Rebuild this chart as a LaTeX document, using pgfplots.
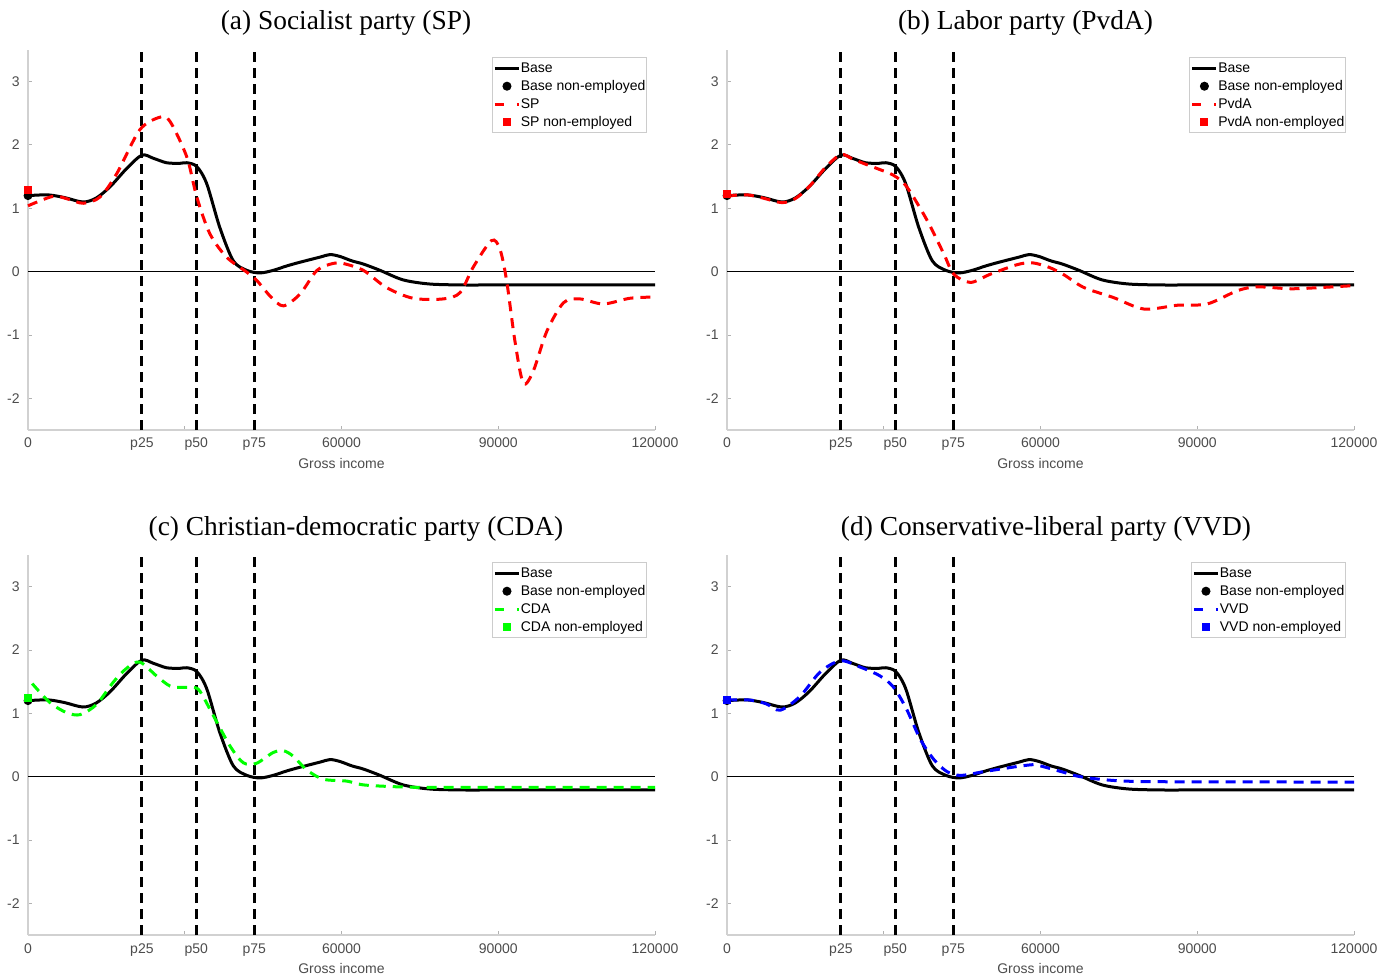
\documentclass[border=0pt]{standalone}
\usepackage{pgfplots}
\usepackage{pgfplotstable}
\pgfplotsset{compat=1.18}
\usepackage{fontspec}
\setmainfont{Liberation Sans}
\newfontfamily\titlefont{Liberation Serif}

\pgfplotstableread{
x y
0 1.20
2000 1.21
4200 1.21
7000 1.17
10500 1.10
13000 1.16
15700 1.34
18900 1.63
21800 1.84
24000 1.79
26500 1.72
29000 1.71
30400 1.72
32300 1.66
34200 1.39
36700 0.70
39300 0.17
41900 0.02
44400 -0.02
46900 0.02
49500 0.09
52100 0.15
55900 0.23
57800 0.27
59700 0.24
62000 0.17
64200 0.12
67400 0.02
71800 -0.13
76900 -0.195
83300 -0.21
90000 -0.21
120000 -0.21
}\base

\pgfplotstableread{
x y
0 1.04
4800 1.19
7500 1.15
10600 1.08
13800 1.18
17000 1.55
21400 2.24
25300 2.44
27200 2.37
30400 1.81
32300 1.18
34800 0.60
38000 0.23
41900 -0.01
43800 -0.14
46500 -0.40
48900 -0.54
52100 -0.35
55300 0.02
58400 0.13
60300 0.13
64200 0.02
68600 -0.25
73700 -0.42
79500 -0.43
82700 -0.33
85200 0.07
88700 0.49
90300 0.36
91600 -0.14
93200 -1.10
94800 -1.76
96700 -1.57
99300 -0.94
102500 -0.49
105600 -0.43
110100 -0.51
115200 -0.42
120000 -0.40
}\sp

\pgfplotstableread{
x y
0 1.19
2000 1.21
4200 1.21
7000 1.16
10500 1.09
13000 1.15
15700 1.34
18900 1.65
21800 1.85
24000 1.78
26100 1.71
29000 1.62
31900 1.52
34400 1.34
38300 0.81
41500 0.28
43400 -0.04
46600 -0.17
50400 -0.04
55500 0.11
58400 0.14
61600 0.07
64500 -0.05
68300 -0.25
74000 -0.41
79800 -0.59
86200 -0.53
91900 -0.51
97700 -0.30
101500 -0.24
107900 -0.27
113700 -0.25
120000 -0.22
}\pvda

\pgfplotstableread{
x y
800 1.47
4200 1.17
7400 1.01
10000 0.98
13100 1.14
16300 1.49
19000 1.72
21400 1.81
24600 1.59
27200 1.43
29500 1.41
31600 1.41
32900 1.35
35500 0.96
38700 0.48
41200 0.22
43700 0.21
46900 0.38
48900 0.41
50800 0.32
53300 0.11
56500 -0.04
61000 -0.07
64200 -0.13
70600 -0.16
76900 -0.17
90000 -0.17
120000 -0.17
}\cda

\pgfplotstableread{
x y
0 1.21
4400 1.21
7500 1.15
10200 1.05
14000 1.27
17800 1.65
21700 1.83
25500 1.73
29300 1.59
31900 1.41
34400 1.06
37000 0.59
39600 0.27
42100 0.08
44700 0.02
49200 0.08
55500 0.16
58700 0.19
60000 0.17
64400 0.07
67600 0.00
74000 -0.06
83500 -0.08
120000 -0.085
}\vvd

\pgfplotsset{
  panel/.style={
    scale only axis, width=313.5pt, height=190pt,
    xmin=0, xmax=120000, ymin=-2.5, ymax=3.5,
    clip=false, scaled x ticks=false, scaled y ticks=false,
    axis x line=bottom, axis y line=left,
    axis line style={-, draw=black!18, line width=0.6pt},
    tick align=inside, major tick length=2pt,
    tick style={draw=black!30, line width=0.5pt},
    xtick={0,30000,60000,90000,120000}, xticklabels={0,,60000,90000,120000},
    extra x ticks={21800,32200,43300}, extra x tick labels={p25,p50,p75},
    extra x tick style={major tick length=0pt},
    ytick={-2,-1,0,1,2,3}, yticklabels={-2,-1,0,1,2,3},
    ticklabel style={font=\fontsize{7}{8}\selectfont, text=black!70},
    xticklabel style={anchor=base, inner sep=0pt, yshift=-9pt},
    yticklabel style={anchor=east, inner sep=0pt, xshift=-4pt},
    xlabel={Gross income},
    xlabel style={font=\fontsize{7}{8}\selectfont, text=black!70, at={(axis description cs:0.5,0)}, anchor=base, yshift=-19pt},
    title style={font=\titlefont\fontsize{13.7}{16}\selectfont, at={(axis description cs:0.5,1)}, anchor=base, yshift=4pt},
    legend cell align=left,
    legend style={at={(1,1)}, anchor=north east, xshift=-3.85pt, yshift=-3.65pt,
      draw=black!20, line width=0.5pt, font=\fontsize{7}{8}\selectfont,
      inner xsep=0.5pt, inner ysep=0.7pt, row sep=0pt,
      nodes={text height=5.3pt, text depth=1.5pt, inner ysep=1.1pt, inner xsep=0.2pt}},
  },
  baseline/.style={black, line width=1.5pt, smooth, tension=0.5,
    legend image code/.code={\draw[##1] (0pt,0pt) -- (12pt,0pt);}},
  party/.style={#1, line width=1.5pt, dash pattern=on 5pt off 3.5pt, smooth, tension=0.5,
    legend image code/.code={\draw[##1, dash pattern=on 4.5pt off 6.5pt] (0pt,0pt) -- (12pt,0pt);}},
  dot/.style={only marks, mark=*, mark size=2pt, black,
    legend image code/.code={\draw[##1] plot coordinates {(6pt,0pt)};}},
  sq/.style={only marks, mark=square*, mark size=1.75pt, #1,
    legend image code/.code={\draw[##1] plot coordinates {(6pt,0pt)};}},
  vline/.style={forget plot, black, line width=1.5pt, dash pattern=on 5pt off 3pt},
  zline/.style={forget plot, black, line width=0.75pt},
}

\newcommand{\common}{%
  \addplot[zline] coordinates {(0,0) (120000,0)};
  \addplot[vline] coordinates {(21800,-2.5) (21800,3.5)};
  \addplot[vline] coordinates {(32200,-2.5) (32200,3.5)};
  \addplot[vline] coordinates {(43300,-2.5) (43300,3.5)};
  \addplot[baseline] table[x=x,y=y] {\base};
  \addlegendentry{Base}
  \addplot[dot] coordinates {(0,1.20)};
  \addlegendentry{Base non-employed}
}

\begin{document}
\begin{tikzpicture}
\path[use as bounding box] (0,0) rectangle (694pt,-489.5pt);

\begin{axis}[panel, at={(14pt,-215pt)}, anchor=south west,
  title={(a) Socialist party (SP)}, title style={xshift=2.25pt}]
\common
\addplot[party=red] table[x=x,y=y] {\sp};
\addlegendentry{SP}
\addplot[sq=red] coordinates {(0,1.29)};
\addlegendentry{SP non-employed}
\end{axis}

\begin{axis}[panel, at={(363.5pt,-215pt)}, anchor=south west,
  title={(b) Labor party (PvdA)}, title style={xshift=-7.5pt}]
\common
\addplot[party=red] table[x=x,y=y] {\pvda};
\addlegendentry{PvdA}
\addplot[sq=red] coordinates {(0,1.22)};
\addlegendentry{PvdA non-employed}
\end{axis}

\begin{axis}[panel, at={(14pt,-467.5pt)}, anchor=south west,
  title={(c) Christian-democratic party (CDA)}, title style={xshift=7.25pt}]
\common
\addplot[party=green] table[x=x,y=y] {\cda};
\addlegendentry{CDA}
\addplot[sq=green] coordinates {(0,1.25)};
\addlegendentry{CDA non-employed}
\end{axis}

\begin{axis}[panel, at={(363.5pt,-467.5pt)}, anchor=south west,
  title={(d) Conservative-liberal party (VVD)}, title style={xshift=2.75pt}]
\common
\addplot[party=blue] table[x=x,y=y] {\vvd};
\addlegendentry{VVD}
\addplot[sq=blue] coordinates {(0,1.21)};
\addlegendentry{VVD non-employed}
\end{axis}
\end{tikzpicture}
\end{document}
